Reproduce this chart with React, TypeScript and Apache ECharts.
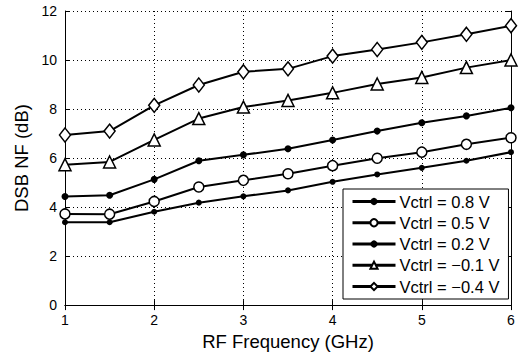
import React, { useEffect, useRef } from "react";
import * as echarts from "echarts";

const freqs = [1, 1.5, 2, 2.5, 3, 3.5, 4, 4.5, 5, 5.5, 6];
const v08 = [3.38, 3.38, 3.81, 4.18, 4.44, 4.68, 5.03, 5.33, 5.6, 5.89, 6.24];
const v05 = [3.72, 3.71, 4.23, 4.82, 5.09, 5.36, 5.69, 5.99, 6.24, 6.56, 6.83];
const v02 = [4.43, 4.48, 5.13, 5.89, 6.13, 6.38, 6.74, 7.1, 7.44, 7.72, 8.05];
const vm01 = [5.73, 5.84, 6.74, 7.61, 8.08, 8.35, 8.66, 9.02, 9.29, 9.69, 10.0];
const vm04 = [6.94, 7.1, 8.15, 8.98, 9.52, 9.64, 10.16, 10.43, 10.72, 11.05, 11.4];
const seriesNames = [
  "Vctrl = 0.8 V",
  "Vctrl = 0.5 V",
  "Vctrl = 0.2 V",
  "Vctrl = \u22120.1 V",
  "Vctrl = \u22120.4 V",
];

const FONT = "Liberation Sans, Arial, Helvetica, sans-serif";

export default function App() {
  const ref = useRef<HTMLDivElement>(null);
  useEffect(() => {
    if (!ref.current) return;
    const chart = echarts.init(ref.current, null, { renderer: "svg" });
    const mk = (name: string, vals: number[], symbol: string, size: any, filled: boolean) => ({
      name,
      type: "line",
      data: freqs.map((f, i) => [f, vals[i]]),
      symbol,
      symbolSize: size,
      showSymbol: true,
      lineStyle: { color: "#000", width: 2 },
      itemStyle: filled
        ? { color: "#000", borderColor: "#000", borderWidth: 0 }
        : { color: "#fff", borderColor: "#000", borderWidth: 1.5 },
      emphasis: { disabled: true },
      z: 3,
    });
    const axisLine = { show: true, lineStyle: { color: "#000", width: 1 } };
    const tickIn = { show: true, inside: true, length: 5, lineStyle: { color: "#000" } };
    chart.setOption({
      animation: false,
      backgroundColor: "#fff",
      grid: { left: 65, right: 9, top: 11, bottom: 47 },
      legend: {
        orient: "vertical",
        left: 343,
        top: 189,
        padding: [4, 9, 4, 8],
        itemGap: 4.25,
        itemWidth: 43,
        itemHeight: 9,
        backgroundColor: "#fff",
        borderColor: "#000",
        borderWidth: 1,
        borderRadius: 0,
        lineStyle: { width: 3 },
        textStyle: {
          fontFamily: FONT,
          fontSize: 16.5,
          lineHeight: 17,
          color: "#000",
          padding: [0, 0, 0, -1],
        },
        data: seriesNames,
        selectedMode: false,
      },
      xAxis: [
        {
          type: "value",
          min: 1,
          max: 6,
          interval: 1,
          name: "RF Frequency (GHz)",
          nameLocation: "middle",
          nameGap: 25.5,
          nameTextStyle: { fontFamily: FONT, fontSize: 18.5, color: "#000" },
          axisLine,
          axisTick: tickIn,
          axisLabel: { fontFamily: FONT, fontSize: 14, color: "#000", margin: 8 },
          splitLine: { show: true, lineStyle: { color: "#000", type: [1, 3], width: 1 } },
        },
        {
          type: "value",
          position: "top",
          min: 1,
          max: 6,
          interval: 1,
          axisLine,
          axisTick: tickIn,
          axisLabel: { show: false },
          splitLine: { show: false },
        },
      ],
      yAxis: [
        {
          type: "value",
          min: 0,
          max: 12,
          interval: 2,
          name: "DSB NF (dB)",
          nameLocation: "middle",
          nameGap: 20,
          nameTextStyle: { fontFamily: FONT, fontSize: 18.5, color: "#000" },
          axisLine,
          axisTick: tickIn,
          axisLabel: { fontFamily: FONT, fontSize: 14, color: "#000", margin: 8 },
          splitLine: { show: true, lineStyle: { color: "#000", type: [1, 3], width: 1 } },
        },
        {
          type: "value",
          position: "right",
          min: 0,
          max: 12,
          interval: 2,
          axisLine,
          axisTick: tickIn,
          axisLabel: { show: false },
          splitLine: { show: false },
        },
      ],
      series: [
        mk(seriesNames[0], v08, "circle", 6, true),
        mk(seriesNames[1], v05, "circle", 10, false),
        mk(seriesNames[2], v02, "circle", 7, true),
        mk(seriesNames[3], vm01, "triangle", 12, false),
        mk(seriesNames[4], vm04, "diamond", [11, 14], false),
      ],
    });
    return () => chart.dispose();
  }, []);
  return <div ref={ref} style={{ width: 520, height: 356, position: "absolute", left: 0, top: 0 }} />;
}
